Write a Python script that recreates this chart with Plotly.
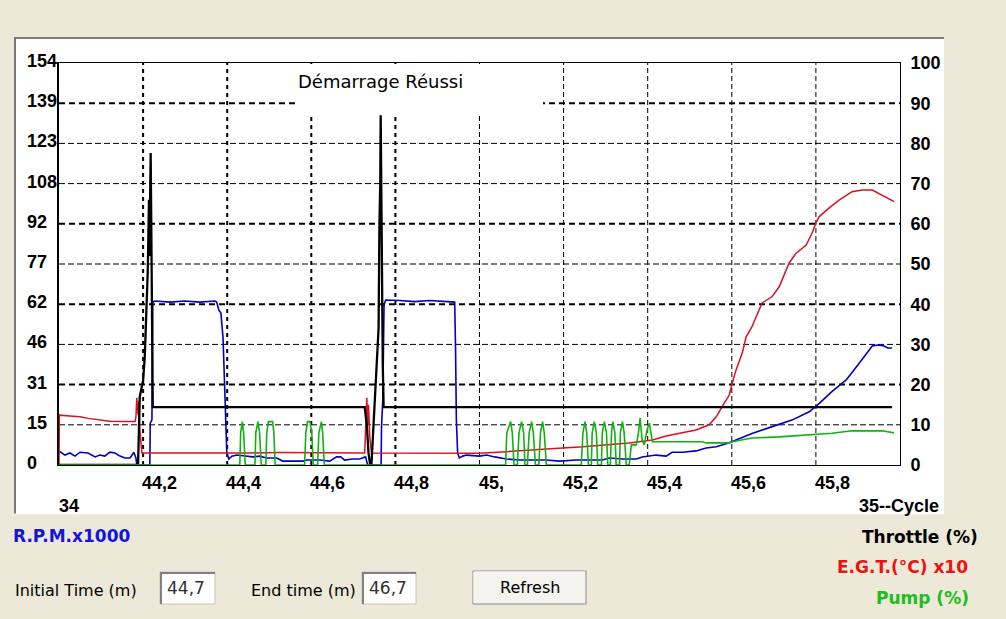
import plotly.graph_objects as go

# ---------------- data (time in minutes) ----------------
time_rpm = [44.000, 44.014, 44.026, 44.038, 44.050, 44.069, 44.086, 44.097, 44.109, 44.121,
            44.133, 44.145, 44.157, 44.169, 44.178, 44.183, 44.185, 44.216, 44.217, 44.221,
            44.223, 44.228, 44.264, 44.299, 44.335, 44.371, 44.375, 44.380, 44.385, 44.390,
            44.394, 44.397, 44.399, 44.404, 44.411, 44.423, 44.442, 44.461, 44.477, 44.494,
            44.518, 44.532, 44.580, 44.589, 44.620, 44.644, 44.660, 44.670, 44.679, 44.698,
            44.715, 44.729, 44.734, 44.766, 44.767, 44.770, 44.773, 44.777, 44.810, 44.846,
            44.881, 44.917, 44.941, 44.943, 44.945, 44.948, 44.952, 44.960, 44.969, 45.000,
            45.017, 45.036, 45.064, 45.095, 45.159, 45.190, 45.230, 45.292, 45.309, 45.340,
            45.373, 45.387, 45.420, 45.444, 45.458, 45.482, 45.515, 45.539, 45.563, 45.594,
            45.625, 45.648, 45.696, 45.743, 45.784, 45.808, 45.838, 45.872, 45.903, 45.934,
            45.950, 45.962, 45.971, 45.981]
rpm_k = [5.4, 3.8, 4.6, 3.4, 4.9, 4.6, 3.1, 3.8, 3.4, 4.9,
         4.6, 3.4, 2.7, 2.7, 4.9, 2.7, 0.0, 0.0, 16.0, 17.3,
         62.4, 62.8, 62.4, 62.8, 62.4, 62.8, 62.4, 59.4, 58.2, 49.0,
         29.9, 17.2, 4.6, 2.3, 3.4, 3.8, 3.4, 3.1, 3.4, 2.7,
         2.7, 1.5, 1.5, 1.9, 1.9, 1.5, 3.1, 3.1, 1.9, 2.3,
         2.3, 3.1, 0.0, 0.0, 14.6, 24.9, 61.3, 63.2, 63.0, 62.6,
         63.0, 62.6, 62.4, 45.2, 17.2, 4.6, 2.7, 3.4, 3.8, 3.4,
         3.8, 3.1, 2.3, 1.9, 1.9, 1.5, 1.9, 1.9, 2.7, 2.3,
         2.3, 3.1, 3.8, 3.4, 4.9, 4.9, 5.4, 6.5, 7.0, 8.5,
         10.7, 12.1, 14.7, 17.2, 20.4, 23.6, 28.1, 32.6, 39.0, 45.6,
         46.0, 45.6, 44.8, 44.8]

time_egt = [44.000, 44.001, 44.026, 44.050, 44.069, 44.097, 44.121, 44.157, 44.181, 44.183,
            44.185, 44.188, 44.190, 44.192, 44.195, 44.197, 44.454, 44.525, 44.727, 44.729,
            44.732, 44.734, 44.736, 44.739, 44.743, 45.000, 45.064, 45.143, 45.197, 45.238,
            45.309, 45.356, 45.411, 45.444, 45.482, 45.515, 45.546, 45.563, 45.577, 45.594,
            45.601, 45.610, 45.625, 45.634, 45.648, 45.665, 45.672, 45.696, 45.713, 45.736,
            45.753, 45.777, 45.791, 45.800, 45.808, 45.831, 45.855, 45.886, 45.910, 45.934,
            45.957, 45.986]
egt_pct = [0.0, 12.4, 12.2, 12.0, 11.6, 11.2, 10.9, 10.8, 10.8, 12.0,
           16.7, 12.5, 16.0, 9.0, 6.0, 3.0, 3.0, 3.1, 3.0, 9.0,
           16.7, 10.0, 15.0, 7.0, 3.0, 2.9, 3.3, 3.7, 4.2, 4.5,
           5.0, 5.5, 6.2, 7.2, 8.0, 8.7, 10.0, 12.0, 14.5, 17.4,
           20.4, 23.6, 27.9, 31.9, 34.4, 38.6, 40.3, 41.9, 44.4, 50.2,
           52.7, 54.7, 57.7, 60.2, 61.8, 63.9, 65.9, 68.0, 68.4, 68.4,
           67.2, 65.5]

time_pump = [44.000, 44.430, 44.432, 44.436, 44.439, 44.443, 44.466, 44.468, 44.473, 44.477,
             44.481, 44.492, 44.494, 44.498, 44.508, 44.511, 44.514, 44.584, 44.587, 44.591,
             44.597, 44.601, 44.605, 44.615, 44.618, 44.624, 44.627, 44.631, 45.062, 45.065,
             45.074, 45.078, 45.082, 45.090, 45.094, 45.100, 45.105, 45.108, 45.114, 45.118,
             45.124, 45.128, 45.133, 45.141, 45.145, 45.150, 45.154, 45.159, 45.242, 45.246,
             45.251, 45.255, 45.259, 45.266, 45.268, 45.273, 45.278, 45.281, 45.290, 45.292,
             45.297, 45.302, 45.305, 45.311, 45.314, 45.317, 45.322, 45.325, 45.333, 45.335,
             45.340, 45.344, 45.349, 45.356, 45.361, 45.373, 45.378, 45.382, 45.387, 45.392,
             45.399, 45.404, 45.411, 45.420, 45.530, 45.539, 45.594, 45.601, 45.648, 45.713,
             45.800, 45.838, 45.886, 45.957, 45.986]
pump_pct = [0.0, 0.0, 8.0, 10.8, 8.0, 0.0, 0.0, 8.0, 10.8, 8.0,
            0.0, 0.0, 8.0, 10.8, 10.8, 8.0, 0.0, 0.0, 8.0, 10.8,
            10.8, 8.0, 0.0, 0.0, 8.0, 10.8, 8.0, 0.0, 0.0, 8.0,
            10.8, 8.0, 0.0, 0.0, 8.0, 10.8, 8.0, 0.0, 0.0, 8.0,
            10.8, 8.0, 0.0, 0.0, 8.0, 10.8, 8.0, 0.0, 0.0, 8.0,
            10.8, 8.0, 0.0, 0.0, 8.0, 10.8, 8.0, 0.0, 0.0, 8.0,
            10.8, 8.0, 0.0, 0.0, 8.0, 10.8, 8.0, 0.0, 0.0, 8.0,
            10.8, 8.0, 0.0, 0.0, 5.0, 5.0, 8.0, 11.7, 6.0, 5.0,
            9.0, 10.4, 5.8, 5.8, 5.8, 5.5, 5.5, 5.8, 6.7, 7.0,
            7.5, 7.9, 8.5, 8.5, 8.0]

time_thr = [44.000, 44.188, 44.192, 44.200, 44.204, 44.209, 44.211, 44.214, 44.215, 44.218,
            44.220, 44.221, 44.223, 44.727, 44.732, 44.736, 44.740, 44.743, 44.748, 44.755,
            44.760, 44.762, 44.764, 44.765, 44.766, 44.768, 44.770, 44.772, 45.981]
throttle_pct = [0.0, 0.0, 17.0, 21.0, 27.0, 41.0, 48.0, 66.0, 52.0, 77.6,
                61.0, 40.0, 14.4, 14.4, 10.0, 3.0, 0.0, 0.0, 10.0, 25.0,
                34.0, 60.0, 70.0, 87.0, 70.0, 45.0, 25.0, 14.4, 14.4]

x_tick_vals = [44.2, 44.4, 44.6, 44.8, 45.0, 45.2, 45.4, 45.6, 45.8]
x_tick_text = ["44,2", "44,4", "44,6", "44,8", "45,", "45,2", "45,4", "45,6", "45,8"]
rpm_tick_vals = [0, 15.4, 30.8, 46.2, 61.6, 77.0, 92.4, 107.8, 123.2, 138.6, 154.0]
rpm_tick_text = ["0", "15", "31", "46", "62", "77", "92", "108", "123", "139", "154"]
pct_tick_vals = [0, 10, 20, 30, 40, 50, 60, 70, 80, 90, 100]
pct_tick_text = ["0", "10", "20", "30", "40", "50", "60", "70", "80", "90", "100"]

# ---------------- geometry helpers (pixels -> paper) ----------------
W, H = 1006, 619
L, R, T, B = 59, 900, 63, 465


def px(x):
    return (x - L) / (R - L)


def py(y):
    return (B - y) / (B - T)


BG = "#ECE9D8"
AXF = dict(family="Liberation Sans, Arial, sans-serif", size=18, color="#000000", weight="bold")
LBF = "DejaVu Sans, Verdana, sans-serif"

fig = go.Figure()
fig.add_trace(go.Scatter(x=time_rpm, y=rpm_k, mode="lines", yaxis="y",
                         line=dict(color="#0000C0", width=1.6), hoverinfo="skip"))
fig.add_trace(go.Scatter(x=time_egt, y=egt_pct, mode="lines", yaxis="y2",
                         line=dict(color="#DD1020", width=1.5), hoverinfo="skip"))
fig.add_trace(go.Scatter(x=time_thr, y=throttle_pct, mode="lines", yaxis="y2",
                         line=dict(color="#000000", width=2.3), hoverinfo="skip"))
fig.add_trace(go.Scatter(x=time_pump, y=pump_pct, mode="lines", yaxis="y2",
                         line=dict(color="#12B012", width=1.6), hoverinfo="skip"))

shapes = []
# window panel
shapes.append(dict(type="rect", xref="paper", yref="paper", layer="below",
                   x0=px(14), x1=px(944), y0=py(514), y1=py(37),
                   fillcolor="white", line=dict(width=0)))
shapes.append(dict(type="line", xref="paper", yref="paper", layer="below",
                   x0=px(14), x1=px(944), y0=py(38), y1=py(38),
                   line=dict(color="#7A7A7A", width=2)))
shapes.append(dict(type="line", xref="paper", yref="paper", layer="below",
                   x0=px(15), x1=px(15), y0=py(37), y1=py(514),
                   line=dict(color="#7A7A7A", width=2)))
shapes.append(dict(type="line", xref="paper", yref="paper", layer="below",
                   x0=px(14), x1=px(944), y0=py(514), y1=py(514),
                   line=dict(color="#F8F8F4", width=1)))

# grid lines
for v in x_tick_vals:
    thick = v < 44.9
    shapes.append(dict(type="line", xref="x", yref="y domain", layer="below",
                       x0=v, x1=v, y0=0, y1=1,
                       line=dict(color="#000000", width=2 if thick else 1,
                                 dash="4px,4px" if thick else "5px,3px")))
thick_rpm = {30.8, 61.6, 92.4, 138.6}
for v in rpm_tick_vals[1:-1]:
    thick = v in thick_rpm
    shapes.append(dict(type="line", xref="x domain", yref="y", layer="below",
                       x0=0, x1=1, y0=v, y1=v,
                       line=dict(color="#000000", width=2 if thick else 1,
                                 dash="6px,4px" if thick else "6px,3px")))
# title background box
shapes.append(dict(type="rect", xref="x domain", yref="y domain", layer="below",
                   x0=px(295), x1=px(543), y0=py(116), y1=py(64),
                   fillcolor="white", line=dict(width=0)))

# text boxes and button
for (x0, x1) in [(160, 215), (362, 416)]:
    shapes.append(dict(type="rect", xref="paper", yref="paper",
                       x0=px(x0), x1=px(x1), y0=py(604), y1=py(572),
                       fillcolor="white", line=dict(color="#C8C4B8", width=1)))
    shapes.append(dict(type="line", xref="paper", yref="paper",
                       x0=px(x0), x1=px(x1), y0=py(573), y1=py(573),
                       line=dict(color="#808080", width=2)))
    shapes.append(dict(type="line", xref="paper", yref="paper",
                       x0=px(x0 + 1), x1=px(x0 + 1), y0=py(572), y1=py(604),
                       line=dict(color="#808080", width=2)))
shapes.append(dict(type="rect", xref="paper", yref="paper",
                   x0=px(473), x1=px(586), y0=py(604), y1=py(571),
                   fillcolor="#F4F3EE", line=dict(color="#8A8A86", width=1)))
shapes.append(dict(type="line", xref="paper", yref="paper",
                   x0=px(474), x1=px(585), y0=py(572), y1=py(572),
                   line=dict(color="#FFFFFF", width=1)))
shapes.append(dict(type="line", xref="paper", yref="paper",
                   x0=px(474), x1=px(474), y0=py(572), y1=py(603),
                   line=dict(color="#FFFFFF", width=1)))

ann = []
for v, t in zip(rpm_tick_vals, rpm_tick_text):
    ann.append(dict(xref="paper", x=px(25), xanchor="left", yref="y", y=v, yanchor="middle",
                    yshift=2, text=t, showarrow=False, font=AXF))
for v, t in zip(x_tick_vals, x_tick_text):
    ann.append(dict(xref="x", x=v, xanchor="left", xshift=-3, yref="paper", y=py(483),
                    yanchor="middle", text=t, showarrow=False, font=AXF))
ann.append(dict(xref="paper", x=px(57), xanchor="left", yref="paper", y=py(506), yanchor="middle",
                text="34", showarrow=False, font=AXF))
ann.append(dict(xref="paper", x=px(941), xanchor="right", yref="paper", y=py(506), yanchor="middle",
                text="35--Cycle", showarrow=False, font=AXF))
ann.append(dict(xref="paper", x=px(296), xanchor="left", yref="paper", y=py(82), yanchor="middle",
                text="Démarrage Réussi", showarrow=False,
                font=dict(family=LBF, size=18, color="#000000")))
ann.append(dict(xref="paper", x=px(11), xanchor="left", yref="paper", y=py(536), yanchor="middle",
                text="R.P.M.x1000", showarrow=False,
                font=dict(family=LBF, size=17, color="#1515D8", weight="bold")))
ann.append(dict(xref="paper", x=px(980), xanchor="right", yref="paper", y=py(537), yanchor="middle",
                text="Throttle (%)", showarrow=False,
                font=dict(family=LBF, size=17, color="#000000", weight="bold")))
ann.append(dict(xref="paper", x=px(970), xanchor="right", yref="paper", y=py(567), yanchor="middle",
                text="E.G.T.(°C) x10", showarrow=False,
                font=dict(family=LBF, size=17, color="#EE1111", weight="bold")))
ann.append(dict(xref="paper", x=px(971), xanchor="right", yref="paper", y=py(598), yanchor="middle",
                text="Pump (%)", showarrow=False,
                font=dict(family=LBF, size=17, color="#22BB22", weight="bold")))
ann.append(dict(xref="paper", x=px(13), xanchor="left", yref="paper", y=py(590), yanchor="middle",
                text="Initial Time (m)", showarrow=False,
                font=dict(family=LBF, size=16, color="#000000")))
ann.append(dict(xref="paper", x=px(249), xanchor="left", yref="paper", y=py(590), yanchor="middle",
                text="End time (m)", showarrow=False,
                font=dict(family=LBF, size=16, color="#000000")))
ann.append(dict(xref="paper", x=px(165), xanchor="left", yref="paper", y=py(588), yanchor="middle",
                text="44,7", showarrow=False,
                font=dict(family=LBF, size=17, color="#303030")))
ann.append(dict(xref="paper", x=px(367), xanchor="left", yref="paper", y=py(588), yanchor="middle",
                text="46,7", showarrow=False,
                font=dict(family=LBF, size=17, color="#303030")))
ann.append(dict(xref="paper", x=px(529.5), xanchor="center", yref="paper", y=py(587), yanchor="middle",
                text="Refresh", showarrow=False,
                font=dict(family=LBF, size=16, color="#000000")))

fig.update_layout(
    width=W, height=H,
    margin=dict(l=L, r=W - R, t=T, b=H - B, pad=0),
    paper_bgcolor=BG, plot_bgcolor="white",
    showlegend=False,
    xaxis=dict(range=[44, 46], showgrid=False, zeroline=False, showticklabels=False, ticks="",
               showline=True, mirror=True, linecolor="#000000", linewidth=1, layer="below traces",
               fixedrange=True),
    yaxis=dict(range=[0, 154], showgrid=False, zeroline=False, showticklabels=False, ticks="",
               showline=True, linecolor="#000000", linewidth=2, layer="below traces", fixedrange=True),
    yaxis2=dict(range=[0, 100], overlaying="y", side="right", showgrid=False, zeroline=False,
                tickmode="array", tickvals=pct_tick_vals, ticktext=pct_tick_text, ticks="",
                tickfont=AXF, ticklabelstandoff=6,
                showline=True, linecolor="#000000", linewidth=1, fixedrange=True),
    shapes=shapes,
    annotations=ann,
)

fig.write_html("out.html", config={"displayModeBar": False},
               post_script="document.body.style.margin='0';document.body.style.overflow='hidden';")
